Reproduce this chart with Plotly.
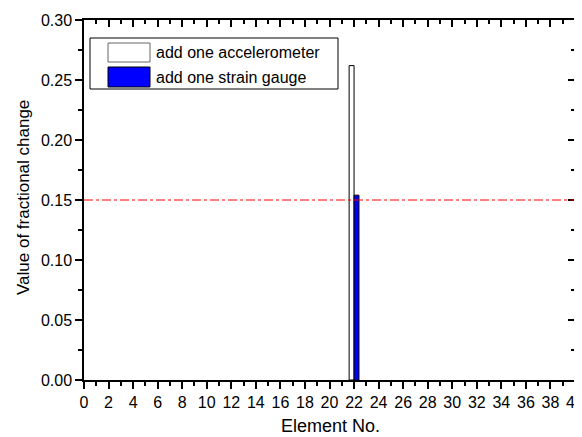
"""Fractional change bar chart (element 22) with threshold line."""

import plotly.graph_objects as go

elements = [22]
accelerometer = [0.262]
strain_gauge = [0.154]
threshold = 0.15
legend_labels = ["add one accelerometer", "add one strain gauge"]

FONT = "Liberation Sans, Arial, sans-serif"

# the page body has an 8px margin, so the figure is drawn 8px smaller
# and the plot area lands at x 84..575, y 20..380 of the window
PX0, PY0, PW, PH = 84, 20, 491, 360


def px(x):
    return (x - PX0) / PW


def py(y):
    return (PY0 + PH - y) / PH


fig = go.Figure()
fig.add_trace(go.Bar(
    x=elements, y=accelerometer, name=legend_labels[0],
    width=0.4, offset=-0.4,
    marker=dict(color="white", line=dict(color="black", width=1)),
    showlegend=False,
))
fig.add_trace(go.Bar(
    x=elements, y=strain_gauge, name=legend_labels[1],
    width=0.4, offset=0,
    marker=dict(color="#0000ff", line=dict(color="black", width=1)),
    showlegend=False,
))
# dummy trace so the mirrored top/right axes get drawn
fig.add_trace(go.Scatter(x=[0], y=[0], xaxis="x2", yaxis="y2",
                         mode="markers", marker=dict(opacity=0),
                         showlegend=False, hoverinfo="skip"))

fig.add_shape(type="line", xref="paper", yref="y", x0=0, x1=1,
              y0=threshold, y1=threshold,
              line=dict(color="red", width=1, dash="dashdot"))

# legend box drawn by hand to get the wide Origin-style swatches
fig.add_shape(type="rect", xref="paper", yref="paper",
              x0=px(90), x1=px(338), y0=py(89), y1=py(38),
              line=dict(color="black", width=1), fillcolor="white")
swatches = [("white", "#666666", 43, 62), ("#0000ff", "black", 67, 87)]
for label, (fill, edge, top, bot) in zip(legend_labels, swatches):
    fig.add_shape(type="rect", xref="paper", yref="paper",
                  x0=px(108), x1=px(150), y0=py(bot), y1=py(top),
                  line=dict(color=edge, width=1), fillcolor=fill)
    fig.add_annotation(x=px(154), y=py((top + bot) / 2),
                       xref="paper", yref="paper", text=label,
                       showarrow=False, xanchor="left", yanchor="middle",
                       font=dict(family=FONT, size=16, color="black"))

# axis titles
fig.add_annotation(x=px(330), y=py(426), xref="paper", yref="paper",
                   text="Element No.", showarrow=False, borderpad=0,
                   xanchor="center", yanchor="middle",
                   font=dict(family=FONT, size=18, color="black"))
fig.add_annotation(x=px(23), y=py(198), xref="paper", yref="paper",
                   text="Value of fractional change", showarrow=False,
                   textangle=-90, xanchor="center", yanchor="middle",
                   font=dict(family=FONT, size=17, color="black"))

axis_common = dict(showgrid=False, zeroline=False, showline=True,
                   linecolor="black", linewidth=1.5, tickcolor="black",
                   tickwidth=1.5, ticklen=7, automargin=False,
                   ticklabeloverflow="allow",
                   tickfont=dict(family=FONT, size=16, color="black"))
minor_out = dict(ticks="outside", ticklen=4, tickcolor="black", tickwidth=1.5)
minor_in = dict(ticks="inside", ticklen=4, tickcolor="black", tickwidth=1.5)

fig.update_layout(
    width=582 - 8, height=437 - 8,
    margin=dict(l=PX0 - 8, r=582 - PX0 - PW, t=PY0 - 8,
                b=437 - PY0 - PH),
    paper_bgcolor="white", plot_bgcolor="white",
    barmode="overlay",
    font=dict(family=FONT, color="black"),
    xaxis=dict(**axis_common, range=[0, 40], dtick=2, tick0=0,
               ticks="outside", minor=dict(dtick=1, **minor_out)),
    yaxis=dict(**axis_common, range=[0, 0.30], dtick=0.05, tick0=0,
               tickformat=".2f", ticks="outside",
               minor=dict(dtick=0.025, **minor_out)),
    xaxis2=dict(**axis_common, overlaying="x", side="top", range=[0, 40],
                dtick=2, tick0=0, ticks="inside", showticklabels=False,
                minor=dict(dtick=1, **minor_in)),
    yaxis2=dict(**axis_common, overlaying="y", side="right",
                range=[0, 0.30], dtick=0.05, tick0=0, ticks="inside",
                showticklabels=False, minor=dict(dtick=0.025, **minor_in)),
)

fig.write_html("out.html")
